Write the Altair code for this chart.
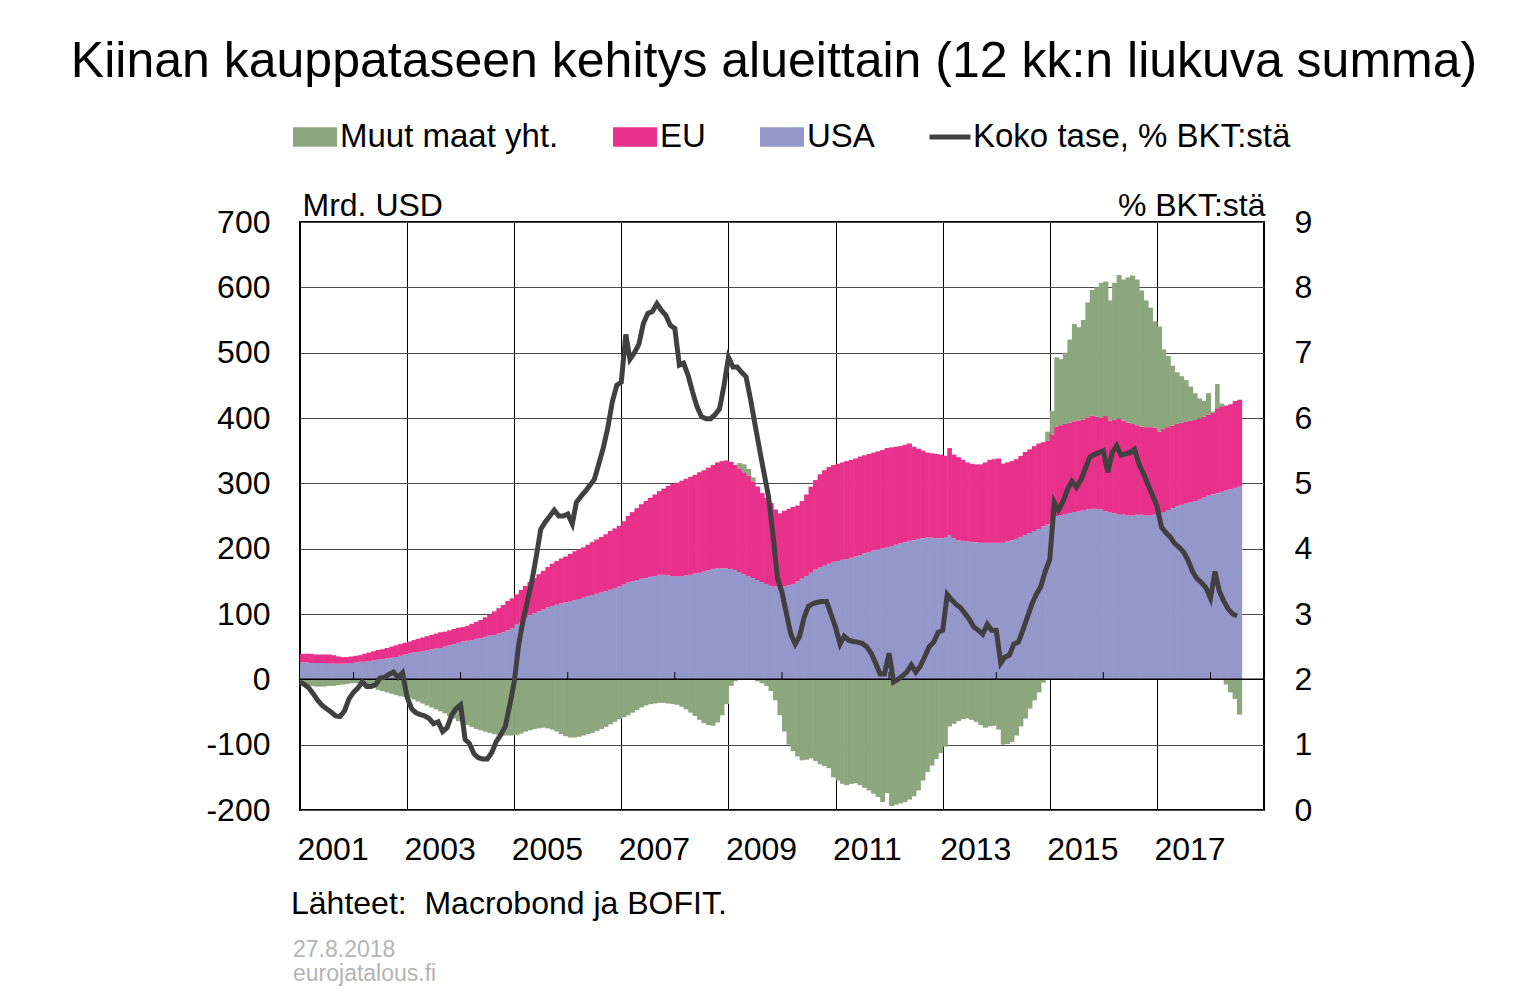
import altair as alt
import pandas as pd

# ---- data (monthly, Jan 2001 .. Jul 2018) ----
usa = [
    26, 26, 25, 25, 25, 25, 24, 24, 24, 24, 24, 25,            # 2001
    26, 27, 27, 28, 29, 30, 31, 32, 33, 34, 36, 38,            # 2002
    40, 41, 42, 43, 44, 46, 47, 48, 50, 52, 54, 56,            # 2003
    58, 59, 60, 62, 63, 65, 67, 68, 70, 72, 75, 78,            # 2004
    84, 88, 93, 98, 101, 104, 107, 110, 112, 114, 116, 118,    # 2005
    119, 121, 123, 125, 127, 129, 131, 133, 135, 137, 139, 142,  # 2006
    145, 148, 150, 152, 154, 155, 157, 158, 160, 160, 159, 158,  # 2007
    158, 158, 159, 160, 162, 163, 165, 167, 169, 170, 170, 170,  # 2008
    169, 167, 164, 161, 158, 155, 152, 149, 146, 143, 142, 141,  # 2009
    142, 144, 146, 150, 154, 158, 163, 168, 171, 174, 177, 180,  # 2010
    181, 183, 184, 186, 188, 190, 193, 195, 197, 199, 200, 202,  # 2011
    204, 206, 208, 210, 212, 213, 215, 216, 217, 217, 216, 216,  # 2012
    217, 221, 216, 213, 212, 211, 210, 210, 209, 209, 209, 209,  # 2013
    209, 209, 211, 213, 215, 218, 221, 224, 227, 230, 234, 237,  # 2014
    243, 250, 251, 253, 254, 256, 257, 259, 260, 261, 261, 260,  # 2015
    257, 256, 254, 253, 252, 251, 251, 252, 252, 251, 251, 252,  # 2016
    254, 256, 259, 262, 265, 267, 269, 271, 273, 275, 278, 281,  # 2017
    283, 285, 287, 289, 291, 293, 295,                           # 2018
]

eu = [
    13, 13, 14, 13, 13, 13, 14, 13, 11, 10, 10, 10,            # 2001
    10, 10, 12, 13, 14, 15, 15, 16, 17, 18, 18, 18,            # 2002
    18, 19, 20, 21, 22, 22, 23, 24, 23, 23, 23, 23,            # 2003
    22, 23, 25, 26, 28, 30, 32, 36, 39, 42, 45, 46,            # 2004
    46, 49, 50, 51, 54, 57, 59, 62, 65, 67, 69, 70,            # 2005
    73, 75, 76, 77, 79, 81, 83, 85, 87, 90, 92, 93,            # 2006
    97, 102, 106, 110, 114, 118, 121, 125, 128, 132, 137, 141,  # 2007
    143, 146, 148, 150, 151, 154, 155, 157, 159, 162, 164, 165,  # 2008
    164, 161, 159, 156, 154, 148, 143, 136, 132, 127, 118, 113,  # 2009
    116, 117, 118, 116, 119, 125, 132, 137, 143, 146, 148, 148,  # 2010
    149, 149, 150, 150, 150, 151, 150, 150, 150, 150, 151, 152,  # 2011
    151, 150, 149, 149, 149, 143, 138, 134, 130, 129, 129, 128,  # 2012
    125, 133, 128, 127, 124, 121, 120, 119, 120, 123, 127, 128,  # 2013
    129, 121, 121, 121, 122, 124, 127, 128, 130, 131, 129, 128,  # 2014
    132, 137, 138, 138, 139, 139, 139, 139, 140, 143, 141, 140,  # 2015
    146, 140, 144, 146, 144, 142, 140, 137, 135, 135, 135, 133,  # 2016
    125, 127, 127, 126, 126, 126, 125, 125, 124, 124, 124, 124,  # 2017
    125, 130, 130, 130, 130, 133, 133,                           # 2018
]

muut = [
    -9, -10, -10, -11, -11, -11, -10, -10, -9, -8, -7, -6,          # 2001
    -6, -7, -9, -11, -13, -16, -18, -20, -22, -24, -26, -27,        # 2002
    -28, -31, -34, -37, -40, -43, -46, -49, -52, -56, -60, -64,     # 2003
    -67, -70, -73, -76, -78, -80, -82, -84, -85, -86, -86, -86,     # 2004
    -85, -83, -80, -78, -76, -75, -74, -75, -77, -80, -84, -87,     # 2005
    -89, -89, -88, -86, -84, -82, -79, -76, -73, -69, -65, -61,     # 2006
    -58, -55, -51, -47, -43, -40, -38, -37, -36, -36, -37, -38,     # 2007
    -39, -42, -46, -51, -56, -62, -67, -70, -71, -66, -55, -38,     # 2008
    -10, -3, 8, 12, 10, 6, -3, -6, -10, -18, -32, -55,              # 2009
    -80, -100, -110, -118, -124, -123, -121, -125, -130, -133, -136, -150,  # 2010
    -155, -160, -162, -160, -159, -162, -166, -170, -175, -180, -188, -174,  # 2011
    -194, -192, -190, -188, -184, -179, -170, -155, -142, -132, -122, -113,  # 2012
    -103, -72, -68, -64, -61, -60, -62, -65, -70, -74, -72, -71,    # 2013
    -77, -100, -99, -96, -86, -72, -60, -45, -32, -20, -5, 14,      # 2014
    36, 106, 101, 109, 127, 149, 143, 152, 177, 192, 198, 207,      # 2015
    206, 184, 209, 220, 216, 222, 227, 223, 208, 194, 183, 163,     # 2016
    161, 122, 109, 92, 79, 71, 64, 52, 41, 31, 24, 33,              # 2017
    2, 37, 5, -8, -20, -30, -54,                                    # 2018
]

pct_gdp = [
    1.96, 1.92, 1.87, 1.78, 1.68, 1.60, 1.55, 1.50, 1.44, 1.43, 1.52, 1.70,  # 2001
    1.80, 1.87, 1.96, 1.89, 1.89, 1.92, 2.02, 2.03, 2.08, 2.11, 2.03, 2.10,  # 2002
    1.73, 1.55, 1.49, 1.46, 1.44, 1.40, 1.32, 1.35, 1.20, 1.26, 1.45, 1.55,  # 2003
    1.61, 1.08, 1.02, 0.86, 0.80, 0.78, 0.78, 0.88, 1.05, 1.15, 1.28, 1.60,  # 2004
    1.96, 2.54, 2.89, 3.20, 3.50, 3.89, 4.30, 4.41, 4.50, 4.59, 4.50, 4.50,  # 2005
    4.53, 4.38, 4.71, 4.80, 4.88, 4.97, 5.06, 5.30, 5.55, 5.85, 6.25, 6.50,  # 2006
    6.55, 7.28, 6.90, 7.00, 7.13, 7.45, 7.60, 7.63, 7.75, 7.65, 7.57, 7.42,  # 2007
    7.37, 6.81, 6.84, 6.65, 6.40, 6.17, 6.02, 5.99, 5.99, 6.05, 6.14, 6.49,  # 2008
    6.93, 6.78, 6.78, 6.70, 6.63, 6.28, 5.90, 5.52, 5.15, 4.80, 4.20, 3.55,  # 2009
    3.33, 3.00, 2.70, 2.54, 2.66, 2.95, 3.12, 3.16, 3.18, 3.19, 3.19, 3.00,  # 2010
    2.80, 2.54, 2.66, 2.60, 2.58, 2.57, 2.55, 2.50, 2.40, 2.25, 2.08, 2.08,  # 2011
    2.40, 1.96, 2.00, 2.05, 2.11, 2.22, 2.11, 2.20, 2.35, 2.50, 2.57, 2.72,  # 2012
    2.75, 3.30, 3.22, 3.15, 3.10, 3.01, 2.92, 2.80, 2.75, 2.69, 2.84, 2.75,  # 2013
    2.75, 2.25, 2.34, 2.37, 2.54, 2.57, 2.75, 2.95, 3.15, 3.30, 3.42, 3.65,  # 2014
    3.83, 4.71, 4.59, 4.72, 4.90, 5.03, 4.94, 5.05, 5.23, 5.40, 5.44, 5.47,  # 2015
    5.50, 5.17, 5.47, 5.58, 5.43, 5.45, 5.47, 5.52, 5.29, 5.15, 4.98, 4.82,  # 2016
    4.65, 4.33, 4.25, 4.18, 4.08, 4.02, 3.95, 3.82, 3.65, 3.54, 3.48, 3.40,  # 2017
    3.24, 3.65, 3.36, 3.20, 3.08, 3.00, 2.97,                                # 2018
]

series_names = ["Muut maat yht.", "EU", "USA"]
series_colors = ["#8CA67D", "#E8318A", "#9497C9"]
line_name = "Koko tase, % BKT:stä"
line_color = "#404040"
left_ticks = [-200, -100, 0, 100, 200, 300, 400, 500, 600, 700]
right_ticks = [0, 1, 2, 3, 4, 5, 6, 7, 8, 9]
label_years = [2001, 2003, 2005, 2007, 2009, 2011, 2013, 2015, 2017]
tick_years = [2002, 2004, 2006, 2008, 2010, 2012, 2014, 2016, 2018]

TITLE = "Kiinan kauppataseen kehitys alueittain (12 kk:n liukuva summa)"
SOURCE = "Lähteet:\u00a0\u00a0Macrobond ja\u00a0BOFIT."
DATE = "27.8.2018"
SITE = "eurojatalous.fi"
FONT = "Liberation Sans"

# ---- tables ----
months = pd.date_range("2001-01-01", periods=len(usa), freq="MS")
month_end = months + pd.offsets.MonthBegin(1)
starts = list(months.strftime("%Y-%m-%d"))
ends = list(month_end.strftime("%Y-%m-%d"))

rows = []
for i in range(len(usa)):
    rows.append({"start": starts[i], "end": ends[i], "series": "USA", "value": usa[i], "ord": 0})
    rows.append({"start": starts[i], "end": ends[i], "series": "EU", "value": eu[i], "ord": 1})
    rows.append({"start": starts[i], "end": ends[i], "series": "Muut maat yht.", "value": muut[i], "ord": 2})
bars_df = pd.DataFrame(rows)

line_df = pd.DataFrame({"start": starts, "pct": pct_gdp, "name": line_name})
ticks_df = pd.DataFrame({"d": [f"{y}-01-01" for y in tick_years]})
one = pd.DataFrame({"k": [0]})

x_scale = alt.Scale(
    type="utc",
    domain=[alt.DateTime(year=2001, month=1, date=1, utc=True),
            alt.DateTime(year=2019, month=1, date=1, utc=True)],
    nice=False,
)
x_axis = alt.Axis(
    values=[alt.DateTime(year=y, month=1, date=1, utc=True) for y in label_years],
    labelExpr="utcFormat(datum.value, '%Y')",
    grid=True, gridColor="#000000", gridWidth=1,
    domain=False, ticks=False, tickSize=0,
    labelAlign="left", labelBaseline="top", labelPadding=24, labelOffset=-3,
    labelFlush=False, labelOverlap=False, labelBound=False,
    labelFontSize=32, labelFont=FONT, labelColor="black", title=None,
)

y_left = alt.Axis(
    values=left_ticks, grid=True, gridColor="#4a4a4a", gridWidth=1,
    domain=False, ticks=False, tickSize=0, labelPadding=30,
    labelFlush=False, labelOverlap=False, labelExpr="'' + datum.value",
    labelFontSize=32, labelFont=FONT, labelColor="black",
    title="Mrd. USD", titleAngle=0, titleAlign="left", titleBaseline="alphabetic",
    titleX=2, titleY=-7, titleFontSize=32, titleFont=FONT,
    titleFontWeight="normal", titleColor="black",
)
y_right = alt.Axis(
    orient="right", values=right_ticks, grid=False,
    domain=False, ticks=False, tickSize=0, labelPadding=30,
    labelFlush=False, labelOverlap=False,
    labelFontSize=32, labelFont=FONT, labelColor="black",
    title="% BKT:stä", titleAngle=0, titleAlign="right", titleBaseline="alphabetic",
    titleX=1, titleY=-7, titleFontSize=32, titleFont=FONT,
    titleFontWeight="normal", titleColor="black",
)

y_scale_left = alt.Scale(domain=[-200, 700], nice=False, zero=False)

bars = alt.Chart(bars_df).transform_stack(
    stack="value", as_=["v0", "v1"], groupby=["start"],
    sort=[alt.SortField("ord", order="ascending")], offset="zero",
).mark_rect(x2Offset=0.6, strokeWidth=0).encode(
    x=alt.X("start:T", scale=x_scale, axis=x_axis),
    x2="end:T",
    y=alt.Y("v0:Q", scale=y_scale_left, axis=y_left),
    y2="v1:Q",
    color=alt.Color(
        "series:N",
        scale=alt.Scale(domain=series_names, range=series_colors),
        legend=alt.Legend(
            title=None, orient="none", legendX=-7, legendY=-107,
            direction="horizontal",
            symbolType="M-1,-0.44H1V0.44H-1Z", symbolSize=1936,
            symbolStrokeWidth=0, symbolOpacity=1,
            labelFontSize=33, labelFont=FONT, labelColor="black",
            labelOffset=3, columnPadding=54, padding=0, labelLimit=0,
        ),
    ),
)

zero_rule = alt.Chart(one).mark_rule(color="black", strokeWidth=1.5).encode(
    y=alt.datum(0)
)

year_ticks = alt.Chart(ticks_df).mark_rule(color="black", strokeWidth=1).encode(
    x=alt.X("d:T", scale=x_scale, axis=x_axis),
    y=alt.datum(0),
    y2=alt.datum(11),
)

title_txt = alt.Chart(one).mark_text(
    text=TITLE, font=FONT, fontSize=50, align="center", baseline="alphabetic", color="black"
).encode(x=alt.value(474), y=alt.value(-145))
source_txt = alt.Chart(one).mark_text(
    text=SOURCE, font=FONT, fontSize=32, align="left", baseline="alphabetic", color="black"
).encode(x=alt.value(-9), y=alt.value(692))
date_txt = alt.Chart(one).mark_text(
    text=DATE, font=FONT, fontSize=23, align="left", baseline="alphabetic", color="#b4b4b4"
).encode(x=alt.value(-7), y=alt.value(735))
site_txt = alt.Chart(one).mark_text(
    text=SITE, font=FONT, fontSize=23, align="left", baseline="alphabetic", color="#b4b4b4"
).encode(x=alt.value(-7), y=alt.value(759))

left_layer = alt.layer(bars, zero_rule, year_ticks, title_txt, source_txt, date_txt, site_txt)

line = alt.Chart(line_df).mark_line(strokeWidth=5, strokeJoin="miter").encode(
    x=alt.X("start:T", scale=x_scale, axis=x_axis),
    y=alt.Y("pct:Q", scale=alt.Scale(domain=[0, 9], nice=False, zero=False), axis=y_right),
    stroke=alt.Stroke(
        "name:N",
        scale=alt.Scale(domain=[line_name], range=[line_color]),
        legend=alt.Legend(
            title=None, orient="none", legendX=627, legendY=-108,
            symbolType="stroke", symbolSize=1681, symbolStrokeWidth=5,
            labelFontSize=33, labelFont=FONT, labelColor="black",
            labelOffset=0, padding=0, labelLimit=0,
        ),
    ),
)

chart = alt.layer(left_layer, line).resolve_scale(y="independent").properties(
    width=964, height=588,
    padding={"left": 292, "top": 214, "right": 256, "bottom": 178},
    autosize=alt.AutoSizeParams(type="none"),
).configure(font=FONT).configure_view(stroke="black", strokeWidth=2)

chart.save("out.html", embed_options={"renderer": "svg", "actions": False})
